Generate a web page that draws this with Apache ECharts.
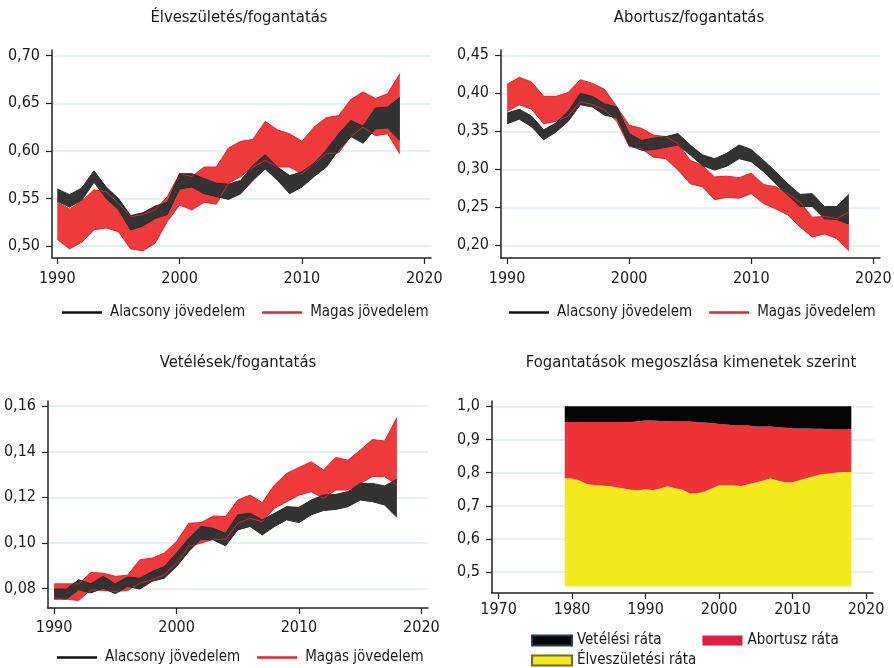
<!DOCTYPE html>
<html>
<head>
<meta charset="utf-8">
<script src="https://cdn.jsdelivr.net/npm/echarts@6/dist/echarts.min.js"></script>
<style>
  html, body { margin: 0; padding: 0; background: #fff; }
  #chart { width: 894px; height: 668px; }
</style>
</head>
<body>
<div id="chart"></div>
<script>
// évek a sávos ábrákhoz
const years = [1990, 1991, 1992, 1993, 1994, 1995, 1996, 1997, 1998, 1999,
  2000, 2001, 2002, 2003, 2004, 2005, 2006, 2007, 2008, 2009,
  2010, 2011, 2012, 2013, 2014, 2015, 2016, 2017, 2018];

// Élveszületés/fogantatás
const birthLowHi = [0.560, 0.554, 0.561, 0.579, 0.562, 0.550, 0.532, 0.535, 0.542, 0.546, 0.576, 0.576, 0.571, 0.566, 0.565, 0.569, 0.585, 0.596, 0.583, 0.574, 0.578, 0.587, 0.601, 0.618, 0.632, 0.626, 0.645, 0.646, 0.656];
const birthLowLo = [0.547, 0.541, 0.548, 0.567, 0.550, 0.538, 0.517, 0.521, 0.529, 0.533, 0.560, 0.562, 0.555, 0.552, 0.549, 0.555, 0.569, 0.581, 0.569, 0.555, 0.562, 0.573, 0.583, 0.601, 0.615, 0.608, 0.623, 0.624, 0.611];
const birthHighHi = [0.546, 0.539, 0.547, 0.559, 0.557, 0.545, 0.531, 0.533, 0.538, 0.552, 0.576, 0.573, 0.583, 0.583, 0.603, 0.610, 0.612, 0.631, 0.622, 0.618, 0.610, 0.625, 0.635, 0.637, 0.654, 0.662, 0.655, 0.660, 0.681];
const birthHighLo = [0.507, 0.497, 0.504, 0.517, 0.519, 0.515, 0.497, 0.495, 0.503, 0.526, 0.543, 0.538, 0.546, 0.544, 0.566, 0.573, 0.583, 0.590, 0.583, 0.583, 0.576, 0.587, 0.597, 0.598, 0.615, 0.625, 0.616, 0.618, 0.597];

// Abortusz/fogantatás
const abortLowHi = [0.374, 0.379, 0.370, 0.352, 0.361, 0.376, 0.400, 0.396, 0.386, 0.382, 0.347, 0.338, 0.341, 0.343, 0.347, 0.332, 0.319, 0.314, 0.321, 0.332, 0.326, 0.312, 0.297, 0.281, 0.267, 0.268, 0.251, 0.251, 0.267];
const abortLowLo = [0.360, 0.366, 0.356, 0.339, 0.349, 0.363, 0.385, 0.382, 0.371, 0.368, 0.332, 0.325, 0.326, 0.329, 0.332, 0.319, 0.305, 0.299, 0.304, 0.314, 0.310, 0.297, 0.281, 0.266, 0.251, 0.251, 0.235, 0.234, 0.228];
const abortHighHi = [0.412, 0.421, 0.415, 0.396, 0.396, 0.401, 0.418, 0.413, 0.405, 0.382, 0.358, 0.354, 0.345, 0.343, 0.334, 0.312, 0.305, 0.290, 0.291, 0.289, 0.295, 0.280, 0.277, 0.268, 0.257, 0.237, 0.238, 0.235, 0.244];
const abortHighLo = [0.376, 0.385, 0.379, 0.360, 0.363, 0.370, 0.389, 0.385, 0.378, 0.363, 0.330, 0.327, 0.316, 0.314, 0.299, 0.281, 0.277, 0.260, 0.263, 0.262, 0.268, 0.255, 0.248, 0.240, 0.224, 0.211, 0.215, 0.209, 0.193];

// Vetélések/fogantatás
const miscLowHi = [0.0797, 0.0797, 0.0838, 0.0820, 0.0853, 0.0820, 0.0850, 0.0845, 0.0874, 0.0896, 0.0955, 0.1020, 0.1072, 0.1064, 0.1042, 0.1123, 0.1130, 0.1101, 0.1130, 0.1159, 0.1156, 0.1188, 0.1210, 0.1213, 0.1225, 0.1261, 0.1261, 0.1250, 0.1279];
const miscLowLo = [0.0753, 0.0753, 0.0794, 0.0780, 0.0801, 0.0777, 0.0809, 0.0797, 0.0831, 0.0845, 0.0896, 0.0962, 0.1016, 0.1013, 0.0987, 0.1057, 0.1072, 0.1035, 0.1072, 0.1101, 0.1089, 0.1123, 0.1142, 0.1147, 0.1159, 0.1188, 0.1181, 0.1166, 0.1112];
const miscHighHi = [0.0820, 0.0820, 0.0820, 0.0870, 0.0867, 0.0853, 0.0858, 0.0926, 0.0933, 0.0955, 0.1006, 0.1086, 0.1089, 0.1118, 0.1115, 0.1188, 0.1210, 0.1177, 0.1254, 0.1305, 0.1331, 0.1356, 0.1320, 0.1375, 0.1363, 0.1407, 0.1454, 0.1447, 0.1550];
const miscHighLo = [0.0758, 0.0753, 0.0747, 0.0794, 0.0791, 0.0787, 0.0791, 0.0823, 0.0838, 0.0860, 0.0911, 0.0984, 0.0999, 0.1016, 0.1016, 0.1086, 0.1108, 0.1093, 0.1152, 0.1181, 0.1210, 0.1225, 0.1196, 0.1232, 0.1232, 0.1261, 0.1291, 0.1291, 0.1254];

// Fogantatások megoszlása
const shareYears = [1979, 1980, 1981, 1982, 1983, 1984, 1985, 1986, 1987, 1988, 1989,
  1990, 1991, 1992, 1993, 1994, 1995, 1996, 1997, 1998, 1999,
  2000, 2001, 2002, 2003, 2004, 2005, 2006, 2007, 2008, 2009,
  2010, 2011, 2012, 2013, 2014, 2015, 2016, 2017, 2018];
const shareBirth = [0.783, 0.782, 0.776, 0.766, 0.763, 0.761, 0.760, 0.756, 0.752, 0.748, 0.747,
  0.750, 0.747, 0.752, 0.759, 0.753, 0.749, 0.737, 0.738, 0.743, 0.752,
  0.762, 0.762, 0.762, 0.760, 0.765, 0.770, 0.776, 0.782, 0.776, 0.771,
  0.771, 0.778, 0.784, 0.790, 0.796, 0.797, 0.800, 0.802, 0.802];
const shareAbort = [0.170, 0.171, 0.177, 0.187, 0.190, 0.192, 0.193, 0.197, 0.201, 0.205, 0.208,
  0.207, 0.210, 0.204, 0.196, 0.201, 0.205, 0.217, 0.214, 0.208, 0.198,
  0.185, 0.183, 0.181, 0.182, 0.177, 0.169, 0.163, 0.157, 0.161, 0.164,
  0.163, 0.155, 0.149, 0.142, 0.136, 0.134, 0.130, 0.128, 0.128];
const shareMisc = [0.047, 0.047, 0.047, 0.047, 0.047, 0.047, 0.047, 0.047, 0.047, 0.047, 0.045,
  0.043, 0.043, 0.044, 0.045, 0.046, 0.046, 0.046, 0.048, 0.049, 0.050,
  0.053, 0.055, 0.057, 0.058, 0.058, 0.061, 0.061, 0.061, 0.063, 0.065,
  0.066, 0.067, 0.067, 0.068, 0.068, 0.069, 0.070, 0.070, 0.070];

// tengelyfeliratok
const xTicks = [1990, 2000, 2010, 2020];
const xTicksShare = [1970, 1980, 1990, 2000, 2010, 2020];
const yTicksBirth = [0.50, 0.55, 0.60, 0.65, 0.70];
const yTicksAbort = [0.20, 0.25, 0.30, 0.35, 0.40, 0.45];
const yTicksMisc = [0.08, 0.10, 0.12, 0.14, 0.16];
const yTicksShare = [0.5, 0.6, 0.7, 0.8, 0.9, 1.0];

// keskeny betű: a DejaVu Sans condensed változata
const FONT = '"DejaVu Sans", sans-serif';
const STRETCH = 'condensed';
const TXT = '#1a1a1a';
const BLACK_FILL = '#333333', BLACK_EDGE = '#2b2b2b';
const RED_FILL = '#ee3a3a', RED_EDGE = '#e8232b';

let myChart = echarts.init(document.getElementById('chart'));

function txt(size) {
  return { color: TXT, fontFamily: FONT, fontSize: size, fontStyle: STRETCH, fontWeight: 'normal' };
}

function xAxis(idx, min, max, ticks, margin) {
  return {
    type: 'value', gridIndex: idx, min: min, max: max,
    axisLine: { show: true, lineStyle: { color: '#222', width: 1.5 } },
    axisTick: { show: true, length: 6, customValues: ticks, lineStyle: { color: '#222', width: 1.2 } },
    axisLabel: Object.assign(txt(16), { customValues: ticks, margin: margin, formatter: v => String(v) }),
    splitLine: { show: false }
  };
}

function yAxis(idx, min, max, ticks, dec) {
  return {
    type: 'value', gridIndex: idx, min: min, max: max,
    axisLine: { show: true, lineStyle: { color: '#222', width: 1.5 } },
    axisTick: { show: true, length: 6, customValues: ticks, lineStyle: { color: '#222', width: 1.2 } },
    axisLabel: Object.assign(txt(16), { customValues: ticks, margin: 12,
      formatter: v => v.toFixed(dec).replace('.', ',') }),
    splitLine: { show: true, lineStyle: { color: '#e6eff1', width: 2 } }
  };
}

// adatpár: [érték, év] – így az egymásra rakás az értékre vonatkozik
function pairs(xs, vals) {
  return xs.map((y, i) => [vals[i], y]);
}

// sáv: alsó határ + a felső határig egymásra rakva
function band(name, idx, lo, hi, fill, edge, key) {
  return [
    {
      name: key + '_lo', type: 'line', xAxisIndex: idx, yAxisIndex: idx, stack: key,
      encode: { x: 1, y: 0 },
      data: pairs(years, lo),
      symbol: 'none', silent: true,
      lineStyle: { color: edge, width: 1 }
    },
    {
      name: name, type: 'line', xAxisIndex: idx, yAxisIndex: idx, stack: key,
      encode: { x: 1, y: 0 },
      data: pairs(years, hi.map((h, i) => +(h - lo[i]).toFixed(5))),
      symbol: 'none', silent: true,
      itemStyle: { color: edge },
      lineStyle: { color: edge, width: 1 },
      areaStyle: { color: fill, opacity: 1 }
    }
  ];
}

function incomeLegend(left, top) {
  return {
    left: left, top: top, width: 420, padding: 0, itemGap: 17, itemWidth: 40, itemHeight: 2.5,
    icon: 'rect', selectedMode: false,
    textStyle: Object.assign(txt(15), { padding: [0, 0, 0, 3] }),
    data: [
      { name: 'Alacsony jövedelem', itemStyle: { color: '#111111', borderWidth: 0 } },
      { name: 'Magas jövedelem', itemStyle: { color: RED_EDGE, borderWidth: 0 } }
    ]
  };
}

function title(text, cx, top) {
  return {
    text: text, left: cx, top: top, textAlign: 'center', padding: 0,
    textStyle: txt(16.5)
  };
}

const shareLine = { width: 0, opacity: 0 };

const option = {
  animation: false,
  backgroundColor: '#ffffff',
  title: [
    title('Élveszületés/fogantatás', 239, 9),
    title('Abortusz/fogantatás', 689, 9),
    title('Vetélések/fogantatás', 238, 354),
    title('Fogantatások megoszlása kimenetek szerint', 691, 354)
  ],
  grid: [
    { left: 52, top: 50, width: 379, height: 208, outerBoundsMode: 'none' },
    { left: 501, top: 50, width: 379, height: 208, outerBoundsMode: 'none' },
    { left: 48, top: 401, width: 380, height: 207, outerBoundsMode: 'none' },
    { left: 492, top: 401, width: 381, height: 192, outerBoundsMode: 'none' }
  ],
  xAxis: [
    xAxis(0, 1989.57, 2020.55, xTicks, 13),
    xAxis(1, 1989.5, 2020.55, xTicks, 13),
    xAxis(2, 1989.5, 2020.54, xTicks, 12),
    xAxis(3, 1969.1, 2020.95, xTicksShare, 9)
  ],
  yAxis: [
    yAxis(0, 0.4874, 0.706, yTicksBirth, 2),
    yAxis(1, 0.1833, 0.457, yTicksAbort, 2),
    yAxis(2, 0.0714, 0.1623, yTicksMisc, 2),
    yAxis(3, 0.4369, 1.016, yTicksShare, 1)
  ],
  legend: [
    incomeLegend(62, 305),
    incomeLegend(509, 305),
    incomeLegend(57, 650),
    {
      left: 531, top: 633, width: 360, padding: 0, itemGap: 41, itemWidth: 40, itemHeight: 10,
      icon: 'rect', selectedMode: false,
      textStyle: txt(15),
      data: [
        { name: 'Vetélési ráta', itemStyle: { color: '#050505', borderColor: '#1f3f60', borderWidth: 2 } },
        { name: 'Abortusz ráta', itemStyle: { color: '#e11d3f', borderColor: '#e11d3f', borderWidth: 0 } }
      ]
    },
    {
      left: 531, top: 653, padding: 0, itemWidth: 40, itemHeight: 10,
      icon: 'rect', selectedMode: false,
      textStyle: txt(15),
      data: [
        { name: 'Élveszületési ráta', itemStyle: { color: '#f1e91a', borderColor: '#6f6d1e', borderWidth: 2 } }
      ]
    }
  ],
  series: [
    ...band('Magas jövedelem', 0, birthHighLo, birthHighHi, RED_FILL, RED_EDGE, 'b_hi'),
    ...band('Alacsony jövedelem', 0, birthLowLo, birthLowHi, BLACK_FILL, BLACK_EDGE, 'b_lo'),
    ...band('Magas jövedelem', 1, abortHighLo, abortHighHi, RED_FILL, RED_EDGE, 'a_hi'),
    ...band('Alacsony jövedelem', 1, abortLowLo, abortLowHi, BLACK_FILL, BLACK_EDGE, 'a_lo'),
    ...band('Magas jövedelem', 2, miscHighLo, miscHighHi, RED_FILL, RED_EDGE, 'm_hi'),
    ...band('Alacsony jövedelem', 2, miscLowLo, miscLowHi, BLACK_FILL, BLACK_EDGE, 'm_lo'),
    {
      name: 'Élveszületési ráta', type: 'line', xAxisIndex: 3, yAxisIndex: 3, stack: 'share',
      encode: { x: 1, y: 0 },
      data: pairs(shareYears, shareBirth),
      symbol: 'none', silent: true, itemStyle: { color: '#f1e91a' },
      lineStyle: shareLine, areaStyle: { color: '#f1e91a', opacity: 1, origin: 0.4567 }
    },
    {
      name: 'Abortusz ráta', type: 'line', xAxisIndex: 3, yAxisIndex: 3, stack: 'share',
      encode: { x: 1, y: 0 },
      data: pairs(shareYears, shareAbort),
      symbol: 'none', silent: true, itemStyle: { color: '#ee3338' },
      lineStyle: shareLine, areaStyle: { color: '#ee3338', opacity: 1 }
    },
    {
      name: 'Vetélési ráta', type: 'line', xAxisIndex: 3, yAxisIndex: 3, stack: 'share',
      encode: { x: 1, y: 0 },
      data: pairs(shareYears, shareMisc),
      symbol: 'none', silent: true, itemStyle: { color: '#050505' },
      lineStyle: shareLine, areaStyle: { color: '#050505', opacity: 1 }
    }
  ]
};

myChart.setOption(option);
</script>
</body>
</html>
